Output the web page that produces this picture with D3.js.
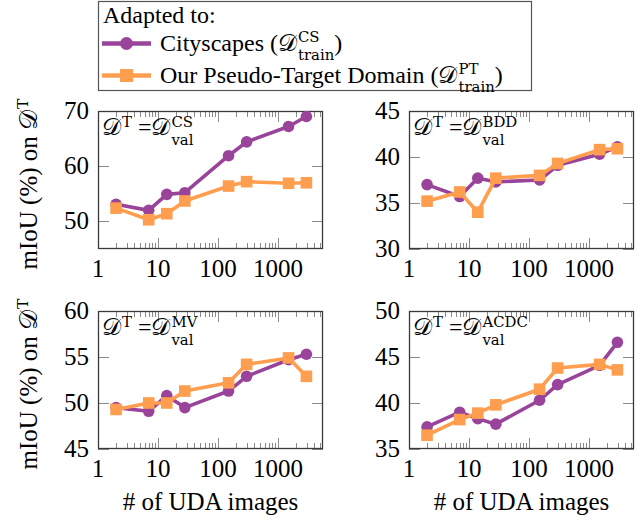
<!DOCTYPE html>
<html>
<head>
<meta charset="utf-8">
<script src="https://cdn.jsdelivr.net/npm/d3@7"></script>
<style>
  body { margin: 0; background: #fff; }
  text { font-family: "Liberation Serif", "Times New Roman", serif; fill: #000; white-space: pre; }
</style>
</head>
<body>
<svg id="chart" width="642" height="522"></svg>
<script>
// x values: number of UDA images
const udaImages = [2, 7, 14, 28, 150, 300, 1500, 2975];

// mIoU per target domain, adapted to Cityscapes vs. pseudo-target
const cityscapesCS   = [53.1, 52.0, 54.9, 55.2, 61.9, 64.4, 67.2, 69.0];
const pseudoCS       = [52.4, 50.3, 51.4, 53.7, 56.4, 57.2, 56.9, 57.0];
const cityscapesBDD  = [37.0, 35.7, 37.7, 37.3, 37.5, 39.1, 40.3, 41.1];
const pseudoBDD      = [35.2, 36.2, 34.0, 37.7, 38.0, 39.3, 40.8, 40.9];
const cityscapesMV   = [49.5, 49.1, 50.8, 49.5, 51.3, 52.9, 54.7, 55.3];
const pseudoMV       = [49.3, 50.0, 50.0, 51.3, 52.2, 54.2, 54.9, 52.9];
const cityscapesACDC = [37.4, 39.0, 38.3, 37.7, 40.3, 42.0, 44.1, 46.6];
const pseudoACDC     = [36.5, 38.2, 38.9, 39.8, 41.5, 43.8, 44.2, 43.6];

const targetNames = ["CS", "BDD", "MV", "ACDC"];
const yDomains = [[45, 70], [30, 45], [45, 60], [35, 50]];
const yTickValues = [[50, 60, 70], [30, 35, 40, 45], [45, 50, 55, 60], [35, 40, 45, 50]];
const xTickValues = [1, 10, 100, 1000];
const seriesNames = ["Cityscapes", "Our Pseudo-Target Domain"];
const seriesSup = ["CS", "PT"];

const panelSeries = [
  [cityscapesCS, pseudoCS],
  [cityscapesBDD, pseudoBDD],
  [cityscapesMV, pseudoMV],
  [cityscapesACDC, pseudoACDC]
];

// styling
var colors = ["#99449a", "#ff9e4f"];
var calD = "\u{1D49F}";
var fontSize = 25;
var scriptFont = "'DejaVu Serif', serif";
var panelW = 225, panelH = 138;
var colX = [98, 409], rowY = [111, 311];
var majorLen = 11, minorLen = 6;

var svg = d3.select("#chart");

// draws text with stacked super/subscripts, returns width
function mathText(g, x, y, parts, size) {
  var cx = x;
  parts.forEach(function(p) {
    var t = g.append("text").attr("x", cx).attr("y", y)
      .attr("xml:space", "preserve")
      .style("font-size", size + "px").text(p.t);
    cx += t.node().getComputedTextLength();
    var extra = 0;
    if (p.sup) {
      var s = g.append("text").attr("x", cx + 1).attr("y", y - size * 0.35)
        .style("font-family", scriptFont)
        .style("font-size", (size * 0.62) + "px").text(p.sup);
      extra = Math.max(extra, s.node().getComputedTextLength() + 1);
    }
    if (p.sub) {
      var b = g.append("text").attr("x", cx + 1).attr("y", y + size * 0.4)
        .style("font-family", scriptFont)
        .style("font-size", (size * 0.62) + "px").text(p.sub);
      extra = Math.max(extra, b.node().getComputedTextLength() + 1);
    }
    cx += extra;
  });
  return cx - x;
}

// minor ticks for log axis
function minorTicks(max) {
  var out = [];
  for (var d = 1; d <= max; d *= 10) {
    for (var k = 2; k <= 9; k++) if (k * d <= max) out.push(k * d);
  }
  return out;
}

var xMax = Math.pow(10, 3.75);

targetNames.forEach(function(name, i) {
  var px = colX[i % 2], py = rowY[Math.floor(i / 2)];
  var x = d3.scaleLog().domain([1, xMax]).range([0, panelW]);
  var y = d3.scaleLinear().domain(yDomains[i]).range([panelH, 0]);

  var g = svg.append("g").attr("transform", "translate(" + px + "," + py + ")");

  // ticks (inward, all four sides)
  var tickG = g.append("g").attr("stroke", "#8a8a8a").attr("stroke-width", 1);
  minorTicks(xMax).forEach(function(v) {
    var xx = Math.round(x(v)) + 0.5;
    tickG.append("line").attr("x1", xx).attr("x2", xx).attr("y1", panelH).attr("y2", panelH - minorLen);
    tickG.append("line").attr("x1", xx).attr("x2", xx).attr("y1", 0).attr("y2", minorLen);
  });
  xTickValues.forEach(function(v) {
    var xx = Math.round(x(v)) + 0.5;
    tickG.append("line").attr("x1", xx).attr("x2", xx).attr("y1", panelH).attr("y2", panelH - majorLen);
    tickG.append("line").attr("x1", xx).attr("x2", xx).attr("y1", 0).attr("y2", majorLen);
  });
  yTickValues[i].forEach(function(v) {
    var yy = Math.round(y(v)) + 0.5;
    tickG.append("line").attr("x1", 0).attr("x2", majorLen).attr("y1", yy).attr("y2", yy);
    tickG.append("line").attr("x1", panelW).attr("x2", panelW - majorLen).attr("y1", yy).attr("y2", yy);
  });

  // frame
  g.append("rect").attr("x", 0.5).attr("y", 0.5).attr("width", panelW - 1).attr("height", panelH - 1)
    .attr("fill", "none").attr("stroke", "#3a3a3a").attr("stroke-width", 1.3);

  // tick labels
  xTickValues.forEach(function(v) {
    g.append("text").attr("x", x(v)).attr("y", panelH + 28)
      .attr("text-anchor", "middle").style("font-size", fontSize + "px").text(v);
  });
  yTickValues[i].forEach(function(v) {
    g.append("text").attr("x", -9).attr("y", y(v) + 8)
      .attr("text-anchor", "end").style("font-size", fontSize + "px").text(v);
  });

  // series
  panelSeries[i].forEach(function(vals, s) {
    var pts = udaImages.map(function(u, j) { return [x(u), y(vals[j])]; });
    g.append("path").attr("d", d3.line()(pts)).attr("fill", "none")
      .attr("stroke", colors[s]).attr("stroke-width", 3.6).attr("stroke-linejoin", "round");
    if (s === 0) {
      g.selectAll(null).data(pts).enter().append("circle")
        .attr("cx", function(d) { return d[0]; }).attr("cy", function(d) { return d[1]; })
        .attr("r", 5.8).attr("fill", colors[s]);
    } else {
      g.selectAll(null).data(pts).enter().append("rect")
        .attr("x", function(d) { return d[0] - 5.8; }).attr("y", function(d) { return d[1] - 5.8; })
        .attr("width", 11.6).attr("height", 11.6).attr("fill", colors[s]);
    }
  });

  // panel label
  mathText(g, 4, 24, [
    { t: calD, sup: "T" },
    { t: " =" },
    { t: calD, sup: name, sub: "val" }
  ], 24);

  // y axis title (left column)
  if (i % 2 === 0) {
    var tg = svg.append("g");
    var w = mathText(tg, 0, 0, [{ t: "mIoU (%) on " }, { t: calD, sup: "T" }], fontSize);
    tg.attr("transform", "translate(37," + (py + panelH / 2 + 4 + w / 2) + ") rotate(-90)");
  }

  // x axis title (bottom row)
  if (i >= 2) {
    g.append("text").attr("x", panelW / 2).attr("y", panelH + 61)
      .attr("text-anchor", "middle").style("font-size", fontSize + "px").text("# of UDA images");
  }
});

// legend
var lg = svg.append("g");
lg.append("rect").attr("x", 98.5).attr("y", 1.5).attr("width", 433).attr("height", 89)
  .attr("fill", "#fff").attr("stroke", "#555").attr("stroke-width", 1.2);
lg.append("text").attr("x", 103).attr("y", 23).style("font-size", "24px").text("Adapted to:");
seriesNames.forEach(function(n, s) {
  var ly = 43.5 + s * 32;
  lg.append("line").attr("x1", 102).attr("x2", 151).attr("y1", ly).attr("y2", ly)
    .attr("stroke", colors[s]).attr("stroke-width", 4.5);
  if (s === 0) lg.append("circle").attr("cx", 126.5).attr("cy", ly).attr("r", 6.5).attr("fill", colors[s]);
  else lg.append("rect").attr("x", 120).attr("y", ly - 6.5).attr("width", 13).attr("height", 13).attr("fill", colors[s]);
  mathText(lg, 160, ly + 7, [
    { t: n + " (" },
    { t: calD, sup: seriesSup[s], sub: "train" },
    { t: ")" }
  ], 24);
});
</script>
</body>
</html>
